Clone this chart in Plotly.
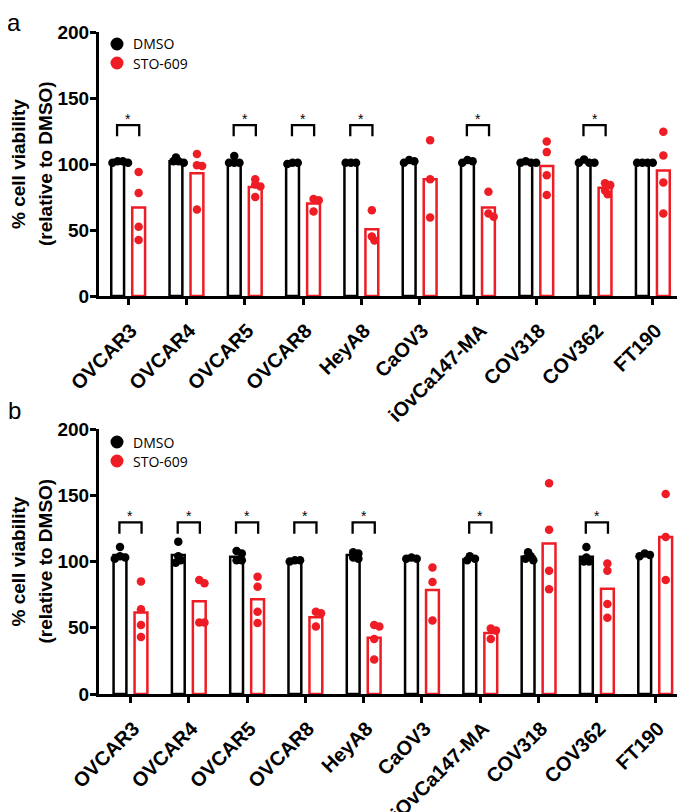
import numpy as np
import plotly.graph_objects as go
from plotly.subplots import make_subplots

cells = ["OVCAR3", "OVCAR4", "OVCAR5", "OVCAR8", "HeyA8", "CaOV3",
         "iOvCa147-MA", "COV318", "COV362", "FT190"]
y_ticks = [0, 50, 100, 150, 200]

# ---- panel a ----
a_dmso_mean = [101.5, 102, 102, 101, 101, 102, 102, 101, 101.5, 101]
a_dmso_pts = [[102, 101, 101, 102], [102, 101, 102, 105], [101, 101, 101, 106],
              [101, 100, 101], [101, 101, 101], [103, 102, 101], [103, 102, 101],
              [101, 101, 101, 102], [101, 101, 101, 103.5], [101, 101, 101, 101]]
a_sto_mean = [67, 93, 82.5, 70, 50.5, 88.5, 67, 98.5, 82, 95]
a_sto_pts = [[94, 78, 52.5, 42.5], [107.5, 99, 98.5, 65.5], [88.5, 84.5, 83, 75],
             [73.5, 72.5, 64], [65, 45, 42], [118, 88.5, 59.5], [79, 60, 62.5],
             [117, 109, 91.5, 76.5], [85.5, 84, 80, 77], [124.5, 106.5, 86, 62.5]]
a_sig = [1, 0, 1, 1, 1, 0, 1, 0, 1, 0]

# ---- panel b ----
b_dmso_mean = [105, 105, 103.5, 101, 105, 102, 101.5, 103.5, 103.5, 105]
b_dmso_pts = [[111, 104, 102, 103], [115, 101, 99, 104], [106, 108, 101, 101],
              [101, 100, 101], [106, 103, 107, 102], [103, 102, 102], [104, 101, 102],
              [101, 102, 107, 104], [111, 100, 100, 103], [106, 105, 104]]
b_sto_mean = [61.5, 70, 71.5, 58, 42.5, 78.5, 46, 113.5, 79.5, 118.5]
b_sto_pts = [[85, 64, 52, 43], [86, 83.5, 54, 54], [88.5, 81, 62, 53.5],
             [62, 61, 51], [51, 52, 41.5, 26], [95.5, 84.5, 55.5], [49.5, 48, 41.5],
             [159, 124, 93, 79], [98.5, 93, 68, 57.5], [151, 118.5, 86]]
b_sig = [1, 1, 1, 1, 1, 0, 1, 0, 1, 0]

BLACK = "#000000"
RED = "#ee1c24"
FONT = "Liberation Sans"

# page body has an 8px margin; coordinates below are screenshot pixels
PAGE = 8
SW, SH = 685, 812
W, H = SW - PAGE, SH - PAGE
ML = 99 - PAGE
MR = SW - 682
MT = 32 - PAGE
MB = H - (694 - PAGE)
PW = W - ML - MR
PH = H - MT - MB


def px2x(px):
    return (px - PAGE - ML) / PW


def py2y(py):
    return (H - MB - (py - PAGE)) / PH


XPX = 58.3   # px per category unit
YPX = 1.32   # px per y unit
BAR_W = 0.22
OFF = 0.18


def swarm(vals, center):
    """simple beeswarm placement of dots around a bar centre"""
    order = np.argsort(vals)[::-1]
    placed = []
    xs = [0.0] * len(vals)
    for i in order:
        v = vals[i]
        dx = 0.0
        for k in [0, 1, -1, 2, -2, 3, -3, 4, -4]:
            dx = k * 2.6
            if all(np.hypot(dx - px, (v - pv) * YPX) >= 4.5 for (px, pv) in placed):
                break
        placed.append((dx, v))
        xs[i] = center + dx / XPX
    return xs


fig = make_subplots(rows=2, cols=1, vertical_spacing=0.2)

panels = [
    (1, a_dmso_mean, a_dmso_pts, a_sto_mean, a_sto_pts, a_sig),
    (2, b_dmso_mean, b_dmso_pts, b_sto_mean, b_sto_pts, b_sig),
]

for row, dm, dp, sm, sp, sig in panels:
    idx = list(range(len(cells)))
    fig.add_trace(go.Bar(x=idx, y=dm, width=BAR_W, offset=-OFF - BAR_W / 2,
                         marker=dict(color="white", line=dict(color=BLACK, width=2.5)),
                         showlegend=False), row=row, col=1)
    fig.add_trace(go.Bar(x=idx, y=sm, width=BAR_W, offset=OFF - BAR_W / 2,
                         marker=dict(color="white", line=dict(color=RED, width=2.5)),
                         showlegend=False), row=row, col=1)
    for pts, sign, col in [(dp, -1, BLACK), (sp, 1, RED)]:
        xs, ys = [], []
        for i, vals in enumerate(pts):
            xs += swarm(vals, i + sign * OFF)
            ys += vals
        fig.add_trace(go.Scatter(x=xs, y=ys, mode="markers",
                                 marker=dict(color=col, size=8.5, line=dict(width=0)),
                                 showlegend=False), row=row, col=1)
    xref = "x" if row == 1 else "x2"
    yref = "y" if row == 1 else "y2"
    for i, s in enumerate(sig):
        if s:
            x0, x1 = i - 0.19, i + 0.19
            fig.add_shape(type="path",
                          path=f"M {x0},121 L {x0},129.5 L {x1},129.5 L {x1},121",
                          xref=xref, yref=yref, line=dict(color=BLACK, width=2.3))
            fig.add_annotation(x=i, y=134, xref=xref, yref=yref, text="*",
                               showarrow=False, yanchor="middle",
                               font=dict(family=FONT, size=14, color=BLACK))

common_x = dict(showline=True, linewidth=3, linecolor=BLACK, ticks="outside",
                ticklen=6, tickwidth=2.5, tickcolor=BLACK, tickangle=-45,
                tickvals=list(range(len(cells))), ticktext=cells,
                ticklabelstandoff=6, ticklabelshift=3, automargin=False,
                tickfont=dict(family=FONT, size=20, color=BLACK, weight="bold"),
                showgrid=False, zeroline=False)
common_y = dict(range=[0, 200], tickvals=y_ticks, showline=True, linewidth=3,
                linecolor=BLACK, ticks="outside", ticklen=6, tickwidth=2.5,
                tickcolor=BLACK, showgrid=False, zeroline=False,
                ticklabelstandoff=-3, automargin=False,
                tickfont=dict(family=FONT, size=19, color=BLACK, weight="bold"))

fig.update_layout(
    template="none",
    xaxis=dict(domain=[0, 1], range=[-0.5, 9.5], anchor="y", **common_x),
    xaxis2=dict(domain=[0, 1], range=[-0.54, 9.46], anchor="y2", **common_x),
    yaxis=dict(domain=[py2y(296), 1], anchor="x", **common_y),
    yaxis2=dict(domain=[0, py2y(429)], anchor="x2", **common_y),
    barmode="overlay",
    width=W, height=H,
    margin=dict(l=ML, r=MR, t=MT, b=MB, autoexpand=False),
    plot_bgcolor="white", paper_bgcolor="white",
    showlegend=False,
)

# y-axis titles, manual legends and panel letters
for dy, letter, ly, y0px, y1px in [(0, "a", None, 32, 296), (398, "b", 410, 429, 694)]:
    ymid = py2y((y0px + y1px) / 2)
    for tx, txt in [(18, "% cell viability"), (45, "(relative to DMSO)")]:
        fig.add_annotation(xref="paper", yref="paper", x=px2x(tx), y=ymid,
                           text=txt, textangle=-90, showarrow=False,
                           xanchor="center", yanchor="middle",
                           font=dict(family=FONT, size=19, color=BLACK, weight="bold"))
    for j, (name, col) in enumerate([("DMSO", BLACK), ("STO-609", RED)]):
        cy = py2y(44 + dy + j * 19)
        cx = px2x(117)
        fig.add_shape(type="circle", xref="paper", yref="paper",
                      xsizemode="pixel", ysizemode="pixel",
                      xanchor=cx, yanchor=cy, x0=-6.5, x1=6.5, y0=-6.5, y1=6.5,
                      fillcolor=col, line=dict(width=0))
        fig.add_annotation(xref="paper", yref="paper", x=px2x(131), y=cy,
                           xanchor="left", yanchor="middle", text=name,
                           showarrow=False,
                           font=dict(family="Open Sans", size=14, color=BLACK))
    if ly is None:
        fig.add_annotation(xref="paper", yref="paper", x=px2x(6), y=py2y(PAGE),
                           xanchor="left", yanchor="top", text=letter,
                           showarrow=False, borderpad=0,
                           font=dict(family=FONT, size=24, color=BLACK))
    else:
        fig.add_annotation(xref="paper", yref="paper", x=px2x(6), y=py2y(ly),
                           xanchor="left", yanchor="middle", text=letter,
                           showarrow=False,
                           font=dict(family=FONT, size=24, color=BLACK))

fig.write_html("out.html")
